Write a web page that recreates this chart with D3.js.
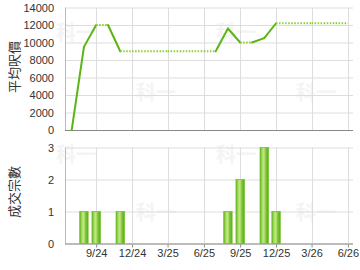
<!DOCTYPE html>
<html lang="zh-Hant">
<head>
<meta charset="utf-8">
<script src="https://d3js.org/d3.v7.min.js"></script>
<style>
body { margin: 0; background: #fff; }
svg { display: block; }
.tick text { font: 11px "Liberation Sans", Arial, sans-serif; fill: #333; }
.ylab { font: 13px "Noto Sans CJK TC", sans-serif; fill: #333; }
.wm { font: bold 20px "Noto Sans CJK TC", sans-serif; fill: #f4f4f4; }
</style>
</head>
<body>
<svg width="360" height="270"></svg>
<script>
// monthly data
var months = ["2024-07","2024-08","2024-09","2024-10","2024-11","2024-12",
  "2025-01","2025-02","2025-03","2025-04","2025-05","2025-06",
  "2025-07","2025-08","2025-09","2025-10","2025-11","2025-12",
  "2026-01","2026-02","2026-03","2026-04","2026-05","2026-06"];
var avgPrice = [0, 9500, 12000, null, 9000, null,
  null, null, null, null, null, null,
  null, 11600, 10000, null, 10500, 12200,
  null, null, null, null, null, null];
var deals = [0, 1, 1, 0, 1, 0,
  0, 0, 0, 0, 0, 0,
  0, 1, 2, 0, 3, 1,
  0, 0, 0, 0, 0, 0];
var tickMonths = ["2024-09","2024-12","2025-03","2025-06","2025-09","2025-12","2026-03","2026-06"];
var priceTicks = [0, 2000, 4000, 6000, 8000, 10000, 12000, 14000];
var dealTicks = [0, 1, 2, 3];

var parse = d3.timeParse("%Y-%m");
var svg = d3.select("svg");
var left = 65, right = 353;

var x = d3.scaleTime()
  .domain([new Date(2024, 5, 14), new Date(2026, 5, 14)])
  .range([left, right]);

var yP = d3.scaleLinear().domain([0, 14000]).range([130, 7.5]);
var yD = d3.scaleLinear().domain([0, 3]).range([243.5, 147.5]);

var tickDates = tickMonths.map(parse);

// gradient for bars
var grad = svg.append("defs").append("linearGradient").attr("id", "bar");
[[0, "#62b21f"], [0.25, "#a6db60"], [0.45, "#c2e88a"], [0.7, "#7fc638"], [1, "#5aa816"]]
  .forEach(function(s) {
    grad.append("stop").attr("offset", s[0]).attr("stop-color", s[1]);
  });

// watermarks
[[76, 40], [156, 100], [236, 40], [316, 100], [76, 162], [156, 220], [236, 162], [316, 220]]
  .forEach(function(p) {
    svg.append("text").attr("class", "wm").attr("x", p[0]).attr("y", p[1])
      .attr("text-anchor", "middle").text("科一");
  });

function grid(y, ticks) {
  var g = svg.append("g");
  g.selectAll(".h").data(ticks).enter().append("line")
    .attr("x1", left).attr("x2", right)
    .attr("y1", function(d) { return y(d) + 0.5; })
    .attr("y2", function(d) { return y(d) + 0.5; })
    .attr("stroke", "#ddd");
  g.selectAll(".v").data(tickDates).enter().append("line")
    .attr("x1", function(d) { return Math.round(x(d)) + 0.5; })
    .attr("x2", function(d) { return Math.round(x(d)) + 0.5; })
    .attr("y1", y.range()[1]).attr("y2", y.range()[0])
    .attr("stroke", "#ddd");
  // left axis line
  g.append("line").attr("x1", left + 0.5).attr("x2", left + 0.5)
    .attr("y1", y.range()[1]).attr("y2", y.range()[0]).attr("stroke", "#bbb");
  // bottom axis line
  g.append("line").attr("x1", left).attr("x2", right)
    .attr("y1", y.range()[0] + 0.5).attr("y2", y.range()[0] + 0.5).attr("stroke", "#888");
}
grid(yP, priceTicks);
grid(yD, dealTicks);

// y axes
function yAxis(y, ticks) {
  var a = svg.append("g").attr("transform", "translate(" + (left - 8) + ",0)")
    .call(d3.axisLeft(y).tickValues(ticks).tickFormat(d3.format("d")).tickSize(0).tickPadding(3));
  a.select(".domain").remove();
}
yAxis(yP, priceTicks);
yAxis(yD, dealTicks);

// x axis (bottom chart)
var xa = svg.append("g").attr("transform", "translate(0," + (yD(0) + 1) + ")")
  .call(d3.axisBottom(x).tickValues(tickDates).tickFormat(d3.timeFormat("%-m/%y")).tickSize(3).tickPadding(2));
xa.select(".domain").remove();
xa.selectAll(".tick line").attr("stroke", "#888");

// axis titles
svg.append("text").attr("class", "ylab")
  .attr("transform", "translate(19,67) rotate(-90)").attr("text-anchor", "middle").text("平均呎價");
svg.append("text").attr("class", "ylab")
  .attr("transform", "translate(19,192) rotate(-90)").attr("text-anchor", "middle").text("成交宗數");

// price line: solid into months with data, dotted when carried forward
var filled = [];
avgPrice.forEach(function(v, i) { filled.push(v != null ? v : filled[i - 1]); });
for (var i = 1; i < months.length; i++) {
  var solid = avgPrice[i] != null;
  svg.append("line")
    .attr("x1", x(parse(months[i - 1]))).attr("y1", yP(filled[i - 1]))
    .attr("x2", x(parse(months[i]))).attr("y2", yP(filled[i]))
    .attr("stroke", solid ? "#5db515" : "#8ccf35")
    .attr("stroke-width", 2)
    .attr("stroke-linecap", solid ? "round" : "butt")
    .attr("stroke-dasharray", solid ? null : "1.5,1.5");
}

// deal bars
var bw = 8.4;
svg.selectAll(".bar").data(months.map(function(m, i) { return {m: parse(m), v: deals[i]}; })
    .filter(function(d) { return d.v > 0; }))
  .enter().append("rect")
  .attr("x", function(d) { return x(d.m) - bw / 2; })
  .attr("y", function(d) { return yD(d.v); })
  .attr("width", bw)
  .attr("height", function(d) { return yD(0) - yD(d.v); })
  .attr("fill", "url(#bar)")
  .attr("stroke", "#72c12e").attr("stroke-width", 0.8);
</script>
</body>
</html>
